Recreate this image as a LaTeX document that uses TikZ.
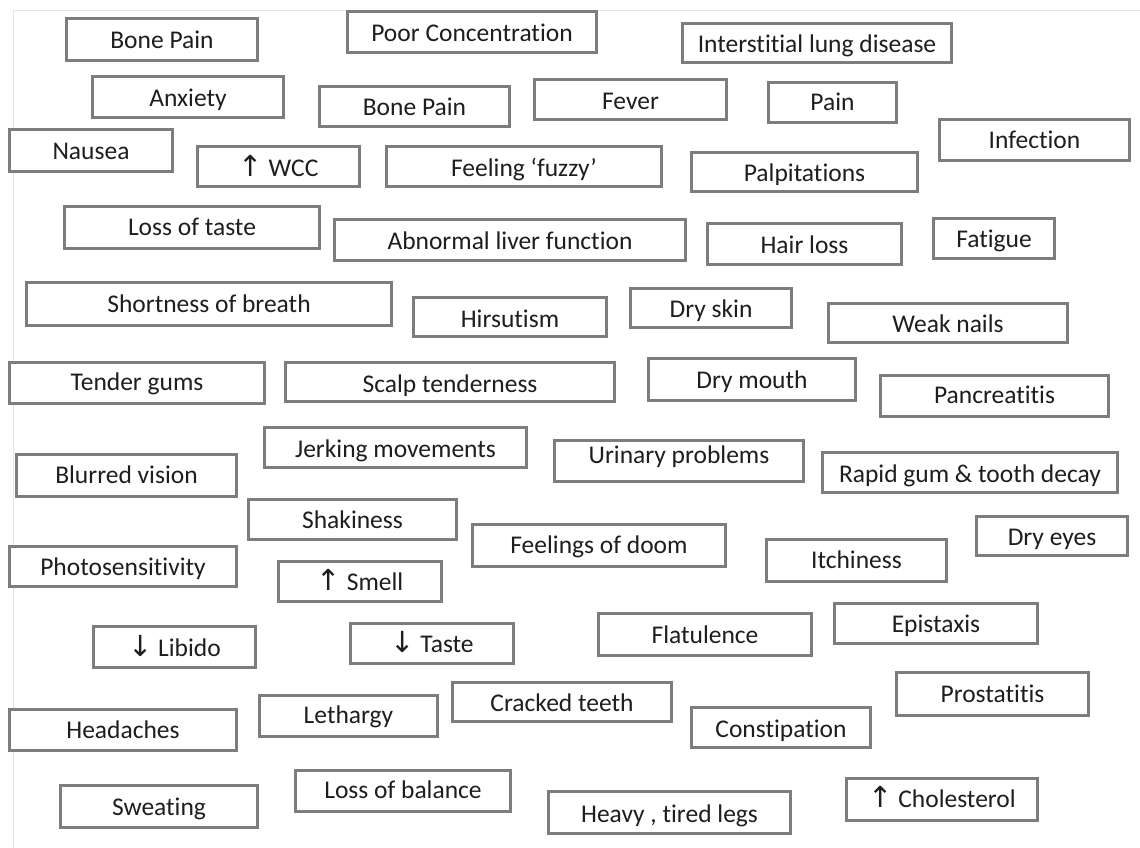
\documentclass[tikz,border=0pt]{standalone}
\usepackage{fontspec}
\setmainfont{Carlito}[Ligatures={TeX,NoCommon}]
\newfontfamily\arrowfont{DejaVu Sans}
\definecolor{boxline}{RGB}{125,125,125}
\definecolor{frameline}{RGB}{228,228,228}
\definecolor{ink}{RGB}{30,30,30}
\newcommand\up{{\arrowfont\fontsize{29}{30}\selectfont ↑}}
\newcommand\down{{\arrowfont\fontsize{29}{30}\selectfont ↓}}
% one symptom: name, left, top, right, bottom, text baseline, label
\newcommand\symptom[7]{%
  \node[symbox, minimum width={#4-#2-2.6}, minimum height={#5-#3-2.6}]
    (#1) at ({(#2+#4)/2},{(#3+#5)/2}) {};
  \node[symtext] (#1-t) at ({(#2+#4)/2},#6) {#7};}
\begin{document}
\begin{tikzpicture}[x=1pt,y=-1pt,
  symbox/.style={draw=boxline, line width=2.6pt, fill=white, inner sep=0pt},
  symtext/.style={anchor=base, inner sep=0pt, text=ink,
    font=\fontsize{25.5}{30}\selectfont}]
\useasboundingbox (0,0) rectangle (1140,847);
\fill[white] (0,0) rectangle (1140,847);
% faint page frame
\draw[frameline, line width=1pt] (13,847) -- (13,10) -- (1140,10);

\symptom{bonepainA}{65}{17}{259}{62}{48}{Bone Pain}
\symptom{poorconc}{346}{10}{598}{54}{41}{Poor Concentration}
\symptom{ild}{681}{22}{953}{64}{52}{Interstitial lung disease}
\symptom{anxiety}{91}{75}{285}{119}{106}{Anxiety}
\symptom{bonepainB}{318}{85}{511}{128}{115}{Bone Pain}
\symptom{fever}{533}{78}{728}{121}{109}{Fever}
\symptom{pain}{767}{81}{898}{124}{110}{Pain}
\symptom{infection}{938}{118}{1131}{162}{148}{Infection}
\symptom{nausea}{8}{128}{174}{173}{159}{Nausea}
\symptom{wcc}{196}{145}{361}{188}{176}{\up\ WCC}
\symptom{fuzzy}{385}{145}{663}{188}{176}{Feeling ‘fuzzy’}
\symptom{palp}{690}{151}{919}{193}{181}{Palpitations}
\symptom{losstaste}{63}{205}{321}{250}{235}{Loss of taste}
\symptom{liver}{333}{218}{687}{262}{249}{Abnormal liver function}
\symptom{hairloss}{706}{222}{903}{266}{253}{Hair loss}
\symptom{fatigue}{932}{217}{1056}{260}{247}{Fatigue}
\symptom{sob}{25}{281}{393}{327}{312}{Shortness of breath}
\symptom{hirsutism}{412}{296}{608}{338}{327}{Hirsutism}
\symptom{dryskin}{629}{287}{793}{329}{317}{Dry skin}
\symptom{weaknails}{827}{302}{1069}{344}{332}{Weak nails}
\symptom{tendergums}{8}{361}{266}{405}{390}{Tender gums}
\symptom{scalp}{284}{361}{616}{403}{392}{Scalp tenderness}
\symptom{drymouth}{647}{357}{857}{402}{388}{Dry mouth}
\symptom{pancreatitis}{879}{374}{1110}{418}{403}{Pancreatitis}
\symptom{jerking}{263}{426}{528}{469}{457}{Jerking movements}
\symptom{urinary}{553}{439}{805}{483}{463}{Urinary problems}
\symptom{blurred}{15}{453}{238}{498}{483}{Blurred vision}
\symptom{rapid}{821}{451}{1119}{494}{482}{Rapid gum \& tooth decay}
\symptom{shakiness}{247}{498}{458}{541}{528}{Shakiness}
\symptom{doom}{471}{523}{727}{568}{553}{Feelings of doom}
\symptom{dryeyes}{975}{515}{1129}{557}{545}{Dry eyes}
\symptom{itchiness}{765}{538}{948}{583}{568}{Itchiness}
\symptom{photo}{8}{545}{238}{588}{575}{Photosensitivity}
\symptom{smell}{277}{560}{443}{603}{590}{\up\ Smell}
\symptom{epistaxis}{833}{602}{1039}{645}{632}{Epistaxis}
\symptom{flatulence}{597}{612}{813}{657}{643}{Flatulence}
\symptom{libido}{92}{625}{257}{669}{656}{\down\ Libido}
\symptom{taste}{349}{622}{515}{665}{652}{\down\ Taste}
\symptom{prostatitis}{895}{671}{1090}{717}{702}{Prostatitis}
\symptom{cracked}{451}{681}{673}{723}{711}{Cracked teeth}
\symptom{lethargy}{258}{694}{439}{738}{723}{Lethargy}
\symptom{constipation}{690}{706}{872}{749}{737}{Constipation}
\symptom{headaches}{8}{708}{238}{752}{738}{Headaches}
\symptom{balance}{294}{769}{512}{813}{798}{Loss of balance}
\symptom{cholesterol}{845}{777}{1039}{822}{807}{\up\ Cholesterol}
\symptom{sweating}{59}{784}{259}{829}{815}{Sweating}
\symptom{legs}{547}{790}{792}{835}{822}{Heavy , tired legs}
\end{tikzpicture}
\end{document}
